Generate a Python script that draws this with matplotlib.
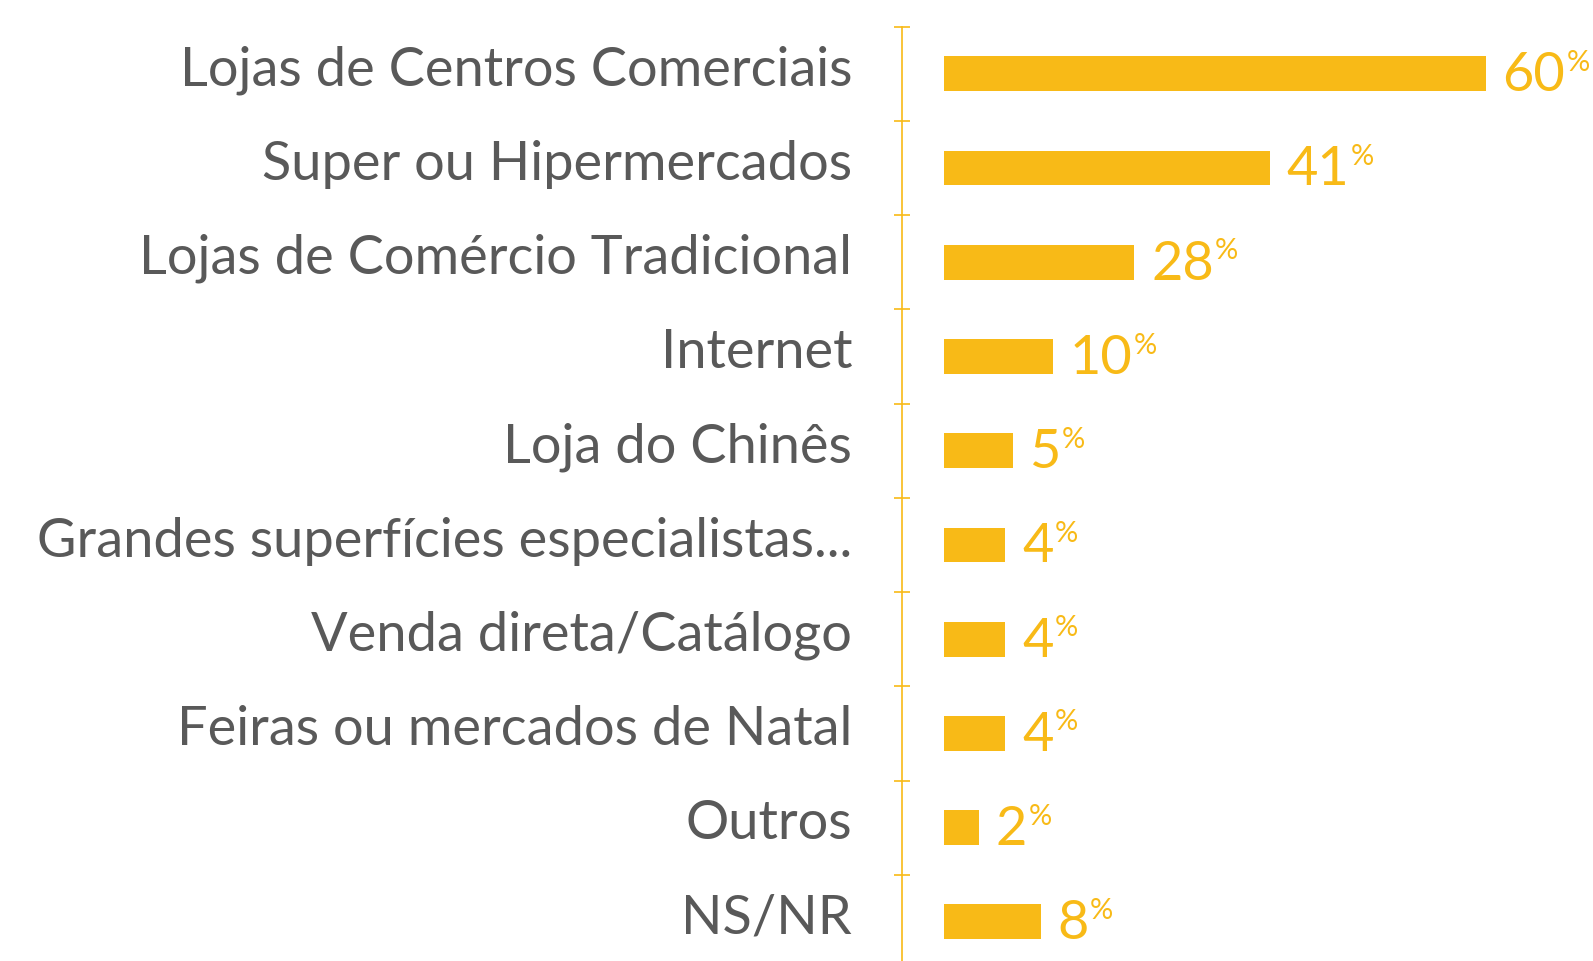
import matplotlib.pyplot as plt
from matplotlib.transforms import ScaledTranslation

categorias = ["Lojas de Centros Comerciais", "Super ou Hipermercados",
              "Lojas de Comércio Tradicional", "Internet", "Loja do Chinês",
              "Grandes superfícies especialistas...", "Venda direta/Catálogo",
              "Feiras ou mercados de Natal", "Outros", "NS/NR"]
percentagens = [60, 41, 28, 10, 5, 4, 4, 4, 2, 8]
# comprimento das barras tal como aparecem no gráfico original
comprimentos = [60, 36.1, 21.1, 12.1, 7.6, 6.8, 6.8, 6.8, 3.9, 10.7]

amarelo = "#F8BA17"
cinza = "#595959"
fonte = "Lato"

W, H = 1593, 961
fig = plt.figure(figsize=(W / 100, H / 100), dpi=100)
ax = fig.add_axes([902 / W, 1 - 969 / H, (W - 902) / W, (969 - 26.7) / H])

n = len(categorias)
pos = list(range(n))
alt = 0.37
ax.barh(pos, comprimentos, height=alt, color=amarelo, zorder=2)

ax.set_ylim(n - 0.5, -0.5)
ax.set_xlim(-4.65, 71.9)

for s in ["top", "right", "bottom"]:
    ax.spines[s].set_visible(False)
ax.spines["left"].set_color(amarelo)
ax.spines["left"].set_linewidth(1.2)
ax.set_xticks([])

ax.set_yticks(pos)
ax.set_yticklabels(categorias, fontsize=39, color=cinza, family=fonte)
ax.tick_params(axis="y", which="major", length=0, pad=36)
# os nomes ficam um pouco acima do centro das barras
desloc = ScaledTranslation(0, 6 / 72, fig.dpi_scale_trans)
for lab in ax.get_yticklabels():
    lab.set_transform(lab.get_transform() + desloc)
ax.set_yticks([p - 0.5 for p in pos] + [n - 0.5], minor=True)
ax.tick_params(axis="y", which="minor", direction="inout", length=11,
               width=1.2, color=amarelo)

for p, c, v in zip(pos, comprimentos, percentagens):
    t = ax.annotate(str(v), xy=(c, p + alt / 2), xytext=(12, 0),
                    textcoords="offset points", ha="left", va="baseline",
                    fontsize=39, color=amarelo, family=fonte)
    ax.annotate("%", xy=(1, 1), xycoords=t, xytext=(1, 1),
                textcoords="offset points", ha="left", va="top",
                fontsize=21, color=amarelo, family=fonte)

fig.savefig("out.png", dpi=100)
